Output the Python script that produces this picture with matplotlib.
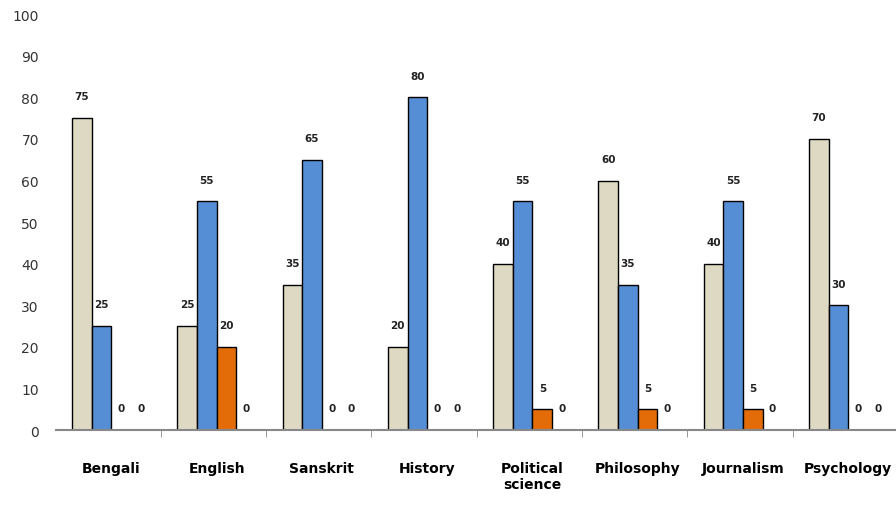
import matplotlib.pyplot as plt
import numpy as np

# Data
categories = ["Bengali", "English", "Sanskrit", "History", "Political\nscience",
              "Philosophy", "Journalism", "Psychology"]
series_1 = [75, 25, 35, 20, 40, 60, 40, 70]
series_2 = [25, 55, 65, 80, 55, 35, 55, 30]
series_3 = [0, 20, 0, 0, 5, 5, 5, 0]
series_4 = [0, 0, 0, 0, 0, 0, 0, 0]
y_ticks = [0, 10, 20, 30, 40, 50, 60, 70, 80, 90, 100]

colors = ["#DDD9C3", "#558ED5", "#E36C09", "#9BBB59"]

fig = plt.figure(figsize=(8.96, 5.06), dpi=100)
ax = fig.add_axes([0.062, 0.148, 0.94, 0.822])

x = np.arange(len(categories))
width = 0.187
offsets = [-1.5, -0.5, 0.5, 1.5]

for data, off, col in zip([series_1, series_2, series_3, series_4], offsets, colors):
    bars = ax.bar(x + off * width + 0.03, data, width, color=col, edgecolor="black", linewidth=1.0)
    ax.bar_label(bars, padding=12, fontsize=7.5, fontweight="bold", color="#222222")

ax.set_xlim(-0.5, len(categories) - 0.5)
ax.set_ylim(0, 100)
ax.set_yticks(y_ticks)
ax.tick_params(axis="y", length=0, labelsize=10, pad=12, labelcolor="#333333")

ax.set_xticks(x + 0.03)
ax.set_xticklabels(categories, fontsize=10, fontweight="bold")
ax.tick_params(axis="x", which="major", length=0, pad=22)
ax.set_xticks(np.arange(0.5, len(categories) - 0.5, 1), minor=True)
ax.tick_params(axis="x", which="minor", length=5, color="#888888", direction="out")

for side in ["top", "right", "left"]:
    ax.spines[side].set_visible(False)
ax.spines["bottom"].set_color("#888888")
ax.spines["bottom"].set_linewidth(1.5)

fig.savefig("out.png", dpi=100)
